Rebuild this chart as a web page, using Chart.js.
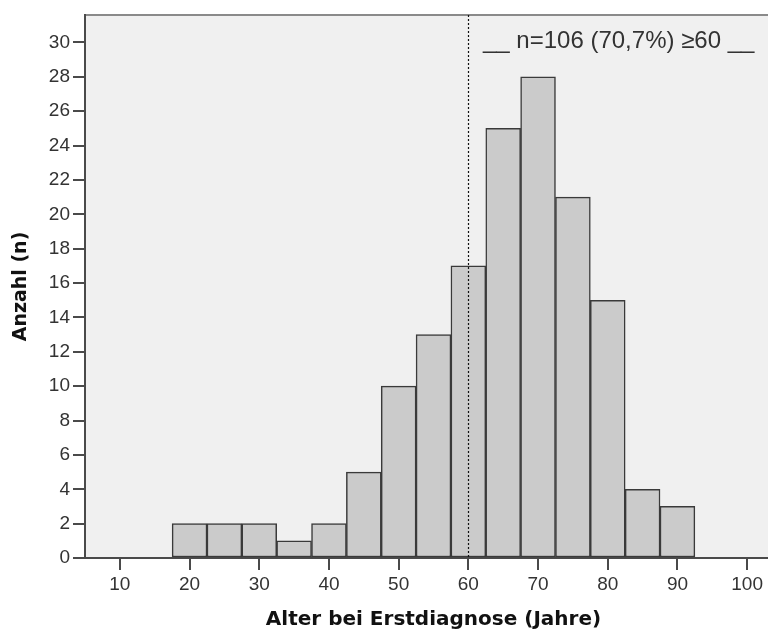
<!DOCTYPE html>
<html>
<head>
<meta charset="utf-8">
<script src="https://cdn.jsdelivr.net/npm/chart.js@4"></script>
<style>
  html, body { margin: 0; padding: 0; background: #fff; overflow: hidden; }
  #wrap { width: 800px; height: 632px; }
</style>
</head>
<body>
<div id="wrap"><canvas id="canvasHist" width="800" height="632"></canvas></div>
<script>
// Daten (Klassenmitte, Anzahl)
var alterMitte = [20, 25, 30, 35, 40, 45, 50, 55, 60, 65, 70, 75, 80, 85, 90];
var anzahl = [2, 2, 2, 1, 2, 5, 10, 13, 17, 25, 28, 21, 15, 4, 3];
var xTicks = [10, 20, 30, 40, 50, 60, 70, 80, 90, 100];
var yTicks = [0, 2, 4, 6, 8, 10, 12, 14, 16, 18, 20, 22, 24, 26, 28, 30];
var grenzeAlter = 60;
var hinweisText = "__ n=106 (70,7%) \u226560 __";

// Hintergrund, Rahmen oben, Trennlinie, Text
var plotDeko = {
    id: 'plotDeko',
    beforeDraw: function (chart) {
        var a = chart.chartArea, ctx = chart.ctx;
        ctx.save();
        ctx.fillStyle = '#f0f0f0';
        ctx.fillRect(a.left, a.top, a.right - a.left, a.bottom - a.top);
        ctx.strokeStyle = '#8a8a8a';
        ctx.lineWidth = 2;
        ctx.beginPath();
        ctx.moveTo(a.left, a.top);
        ctx.lineTo(a.right, a.top);
        ctx.lineTo(a.right, a.bottom);
        ctx.stroke();
        ctx.restore();
    },
    afterDatasetsDraw: function (chart) {
        var a = chart.chartArea, ctx = chart.ctx;
        var xs = chart.scales.x;
        var px = Math.round(xs.getPixelForValue(grenzeAlter)) + 0.5;
        ctx.save();
        ctx.strokeStyle = '#111';
        ctx.lineWidth = 1.2;
        ctx.setLineDash([2, 2]);
        ctx.beginPath();
        ctx.moveTo(px, a.top);
        ctx.lineTo(px, a.bottom);
        ctx.stroke();
        ctx.setLineDash([]);
        ctx.fillStyle = '#333';
        ctx.font = '24px "Liberation Sans", Arial, sans-serif';
        ctx.textBaseline = 'alphabetic';
        ctx.textAlign = 'left';
        ctx.fillText(hinweisText, xs.getPixelForValue(62.1), chart.scales.y.getPixelForValue(29.7));
        ctx.restore();
    }
};

function VeHistogramm() {
    var daten = [];
    for (var i in alterMitte) {
        daten.push({ x: alterMitte[i], y: anzahl[i] });
    }

    new Chart('canvasHist', {
        type: 'bar',
        data: {
            datasets: [{
                data: daten,
                backgroundColor: '#cbcbcb',
                borderColor: '#3a3a3a',
                borderWidth: 1.5,
                borderSkipped: false,
                barPercentage: 1,
                categoryPercentage: 1
            }]
        },
        options: {
            responsive: false,
            animation: false,
            layout: { padding: { left: 0, top: 15, right: 18, bottom: 0 } },
            plugins: {
                legend: { display: false },
                tooltip: { enabled: false }
            },
            scales: {
                x: {
                    type: 'linear',
                    min: 5,
                    max: 105,
                    offset: false,
                    afterBuildTicks: function (s) { s.ticks = xTicks.map(function (v) { return { value: v }; }); },
                    afterFit: function (s) { s.height = 74; },
                    border: { display: true, color: '#4a4a4a', width: 2 },
                    grid: { offset: false, drawOnChartArea: false, drawTicks: true, tickLength: 12, color: '#4a4a4a', lineWidth: 2 },
                    ticks: {
                        padding: 3,
                        color: '#333',
                        font: { family: '"Liberation Sans", Arial, sans-serif', size: 19 }
                    },
                    title: {
                        display: true,
                        text: 'Alter bei Erstdiagnose (Jahre)',
                        color: '#111',
                        padding: { top: 0, bottom: 0 },
                        font: { family: '"DejaVu Sans", sans-serif', size: 20, weight: 'bold' }
                    }
                },
                y: {
                    min: 0,
                    max: 31.6,
                    afterBuildTicks: function (s) { s.ticks = yTicks.map(function (v) { return { value: v }; }); },
                    afterFit: function (s) { s.width = 85; },
                    border: { display: true, color: '#4a4a4a', width: 2 },
                    grid: { drawOnChartArea: false, drawTicks: true, tickLength: 12, color: '#4a4a4a', lineWidth: 2 },
                    ticks: {
                        padding: 3,
                        color: '#333',
                        font: { family: '"Liberation Sans", Arial, sans-serif', size: 19 }
                    },
                    title: {
                        display: true,
                        text: 'Anzahl (n)',
                        color: '#111',
                        padding: { top: 10, bottom: 0 },
                        font: { family: '"DejaVu Sans", sans-serif', size: 19, weight: 'bold' }
                    }
                }
            }
        },
        plugins: [plotDeko]
    });
}

VeHistogramm();
</script>
</body>
</html>
